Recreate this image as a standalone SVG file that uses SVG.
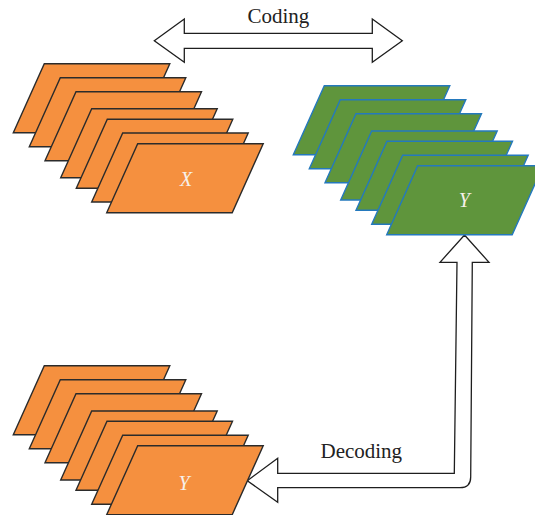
<svg xmlns="http://www.w3.org/2000/svg" width="535" height="515" viewBox="0 0 535 515">
  <defs>
    <!-- one slanted frame sheet; positioned with <use> -->
    <path id="sheet" d="M0,0 H125.5 L94.5,69 H-31 Z"/>
    <style>
      .orange { fill: #f5903f; stroke: #2b2b2b; stroke-width: 1.4; }
      .green { fill: #5f953c; stroke: #2479bd; stroke-width: 1.4; }
      .arrow { fill: #ffffff; stroke: #1e1e1e; stroke-width: 1.3; stroke-linejoin: miter; }
      .lbl { font-family: "Liberation Serif", "DejaVu Serif", serif; font-size: 21px; fill: #222222; text-anchor: middle; }
      .var { font-family: "Liberation Serif", "DejaVu Serif", serif; font-size: 20px; font-style: italic; fill: #f7f1ea; text-anchor: middle; }
    </style>
  </defs>

  <!-- connectors -->
  <g id="connectors">
    <path class="arrow" d="M154.3,40.7 L184.3,19 L184.3,33.3 L372.3,33.3 L372.3,19 L402.3,40.7 L372.3,62.3 L372.3,48.3 L184.3,48.3 L184.3,62.3 Z"/>
    <text class="lbl" x="278.3" y="23.3">Coding</text>
    <path class="arrow" d="M464.5,235 L489,262.3 L472.3,262.3 L470.7,477 Q470.7,487.7 460,487.7 L277.7,487.7 L277.7,502.3 L247.3,480.7 L277.7,458.3 L277.7,473.3 L454.3,473.3 L457,262.3 L440,262.3 Z"/>
    <text class="lbl" x="361.3" y="458.3">Decoding</text>
  </g>

  <!-- input frames X -->
  <g id="stack-x">
    <use href="#sheet" class="orange" x="44.3" y="63.7"/>
    <use href="#sheet" class="orange" x="60.3" y="77.7"/>
    <use href="#sheet" class="orange" x="76" y="91.7"/>
    <use href="#sheet" class="orange" x="91.7" y="108.7"/>
    <use href="#sheet" class="orange" x="107.3" y="119.3"/>
    <use href="#sheet" class="orange" x="122.7" y="133"/>
    <use href="#sheet" class="orange" x="137.7" y="143.7"/>
    <text class="var" x="186" y="186">X</text>
  </g>

  <!-- coded frames Y -->
  <g id="stack-y-coded">
    <use href="#sheet" class="green" x="324.3" y="85.7"/>
    <use href="#sheet" class="green" x="340.3" y="99.7"/>
    <use href="#sheet" class="green" x="356" y="113.7"/>
    <use href="#sheet" class="green" x="371.7" y="131"/>
    <use href="#sheet" class="green" x="387" y="141.3"/>
    <use href="#sheet" class="green" x="402.7" y="155.3"/>
    <use href="#sheet" class="green" x="417.7" y="165.7"/>
    <text class="var" x="464.3" y="207.3">Y</text>
  </g>

  <!-- decoded frames Y -->
  <g id="stack-y-decoded">
    <use href="#sheet" class="orange" x="44.3" y="365.7"/>
    <use href="#sheet" class="orange" x="60.3" y="379.7"/>
    <use href="#sheet" class="orange" x="76" y="393.7"/>
    <use href="#sheet" class="orange" x="91.7" y="411"/>
    <use href="#sheet" class="orange" x="107" y="421.3"/>
    <use href="#sheet" class="orange" x="122.7" y="435.3"/>
    <use href="#sheet" class="orange" x="137.7" y="445.7"/>
    <text class="var" x="184" y="490">Y</text>
  </g>
</svg>
